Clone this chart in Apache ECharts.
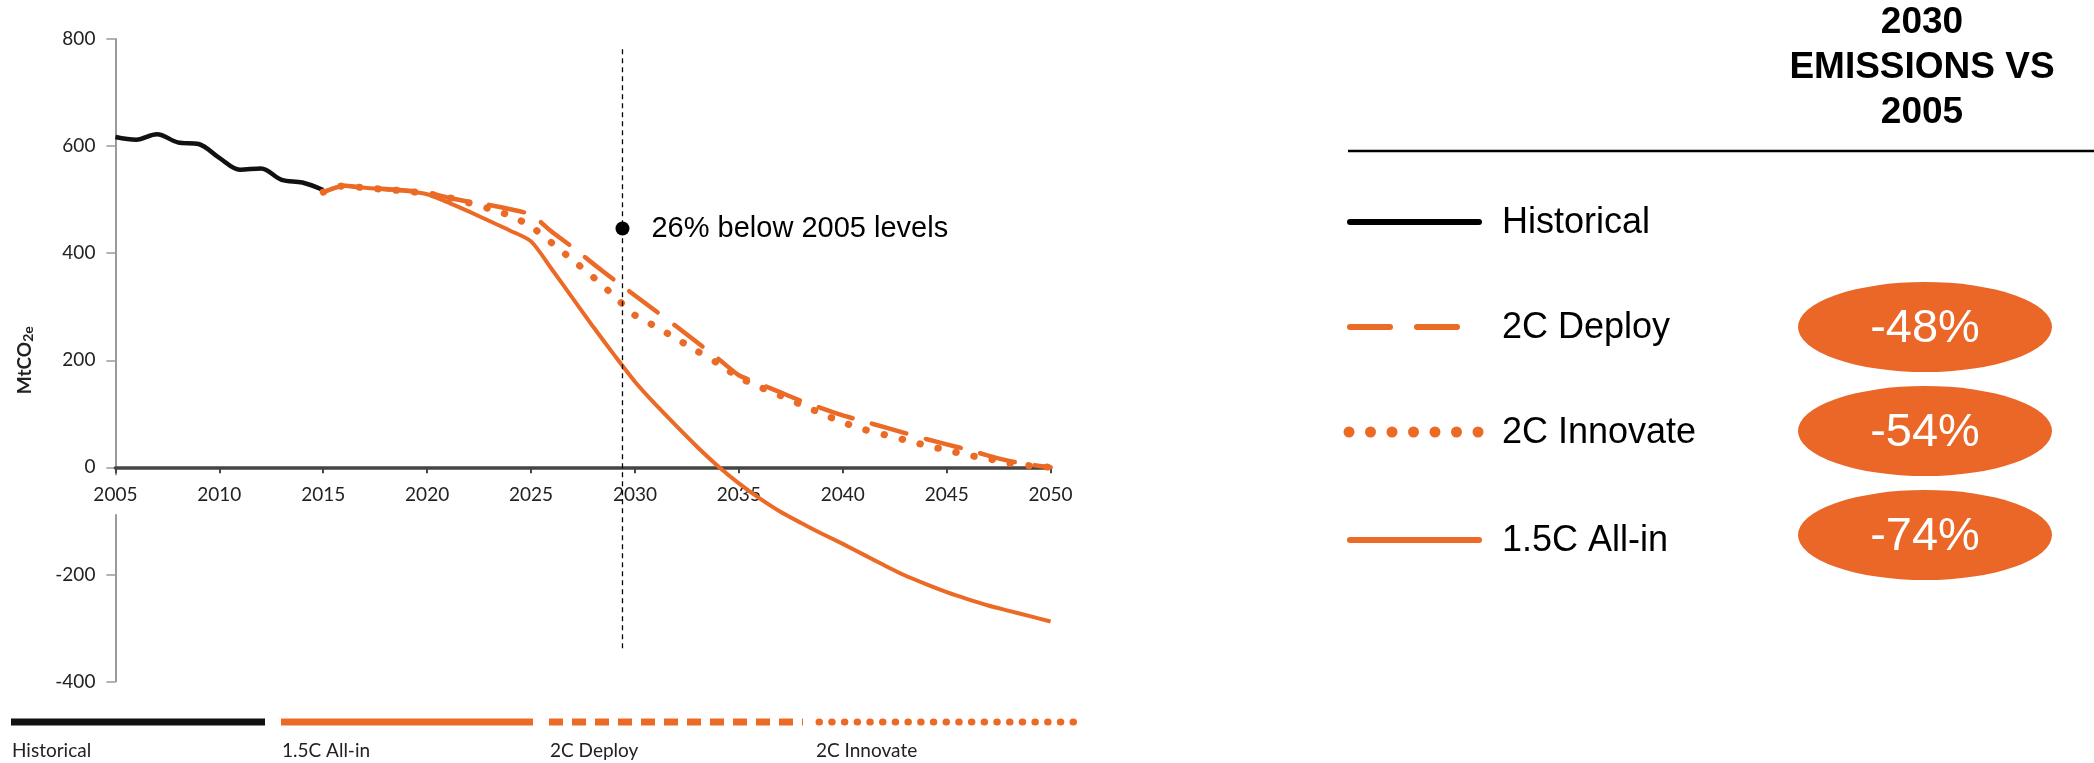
<!DOCTYPE html>
<html>
<head>
<meta charset="utf-8">
<script src="https://cdn.jsdelivr.net/npm/echarts@6/dist/echarts.min.js"></script>
<style>
  html, body { margin: 0; padding: 0; background: #ffffff; }
  #chart { width: 2094px; height: 763px; }
</style>
</head>
<body>
<div id="chart"></div>
<script>
// ---------------- data ----------------
const histYears = [2005, 2006, 2007, 2008, 2009, 2010, 2011, 2012, 2013, 2014, 2015];
const histValues = [617, 612, 622, 607, 604, 578, 556, 558, 537, 532, 518];

const scenarioYears = [2015, 2016, 2017, 2018, 2019, 2020, 2021, 2022, 2023, 2024,
  2025, 2026, 2027, 2028, 2029, 2030, 2031, 2032, 2033, 2034,
  2035, 2036, 2037, 2038, 2039, 2040, 2041, 2042, 2043, 2044,
  2045, 2046, 2047, 2048, 2049, 2050];
const allInValues = [514, 526, 522, 519, 516, 510, 495, 478, 460, 442,
  422, 370, 316, 262, 210, 160, 117, 77, 38, 2,
  -30, -58, -83, -104, -124, -143, -163, -183, -202, -218,
  -233, -246, -258, -268, -278, -288];
const deployValues = [514, 526, 522, 520, 517, 513, 504, 496, 490, 482,
  472, 440, 411, 380, 350, 321, 292, 263, 233, 203,
  172, 156, 140, 124, 110, 97, 86, 75, 64, 53,
  43, 33, 22, 12, 5, 0];
const innovateValues = [514, 526, 522, 519, 516, 511, 504, 494, 483, 470,
  450, 419, 387, 355, 320, 284, 263, 240, 217, 194,
  168, 150, 134, 117, 100, 84, 71, 61, 51, 41,
  32, 23, 16, 8, 3, 0];

const markerYear = 2029.4;
const markerValue = 446;
const markerText = '26% below 2005 levels';
const guideRange = [781, -342];

const xTicks = { min: 2005, max: 2050, interval: 5 };
const yTicks = { min: -400, max: 800, interval: 200 };

const bottomLegendNames = ['Historical', '1.5C All-in', '2C Deploy', '2C Innovate'];
const panelTitle = '2030\nEMISSIONS VS\n2005';
const panelNames = ['Historical', '2C Deploy', '2C Innovate', '1.5C All-in'];
const panelReductions = ['-48%', '-54%', '-74%'];

// ---------------- styles ----------------
const ORANGE = '#EB6A26';
const BLACK = '#111111';
const pairs = (xs, ys) => xs.map((x, i) => [x, ys[i]]);

const GRID_TOP = 39, GRID_BOTTOM_Y = 681.5;
// pixel position of value 0 on the y axis, used to put the x axis on the zero line
const zeroY = GRID_TOP + (GRID_BOTTOM_Y - GRID_TOP) * (yTicks.max - 0) / (yTicks.max - yTicks.min);

const chart = echarts.init(document.getElementById('chart'), null, { renderer: 'canvas' });

const graphics = [];

// bottom legend
const bl = [
  { x1: 11, x2: 265, color: BLACK, dash: null, cap: 'butt', w: 7 },
  { x1: 281, x2: 533, color: ORANGE, dash: null, cap: 'butt', w: 7 },
  { x1: 549, x2: 803, color: ORANGE, dash: [14, 9], cap: 'butt', w: 7 },
  { x1: 819, x2: 1074, color: ORANGE, dash: [0.5, 12.2], cap: 'round', w: 7 }
];
bl.forEach((b, i) => {
  graphics.push({
    type: 'line', shape: { x1: b.x1, y1: 722, x2: b.x2, y2: 722 },
    style: { stroke: b.color, lineWidth: b.w, lineDash: b.dash, lineCap: b.cap }
  });
  graphics.push({
    type: 'text', x: i === 3 ? 816 : b.x1 + 1, y: 751,
    style: { text: bottomLegendNames[i], fill: '#222', font: '19px Lato', textVerticalAlign: 'middle' }
  });
});

// side panel title + rule
graphics.push({
  type: 'text', x: 1922, y: 68,
  style: { text: panelTitle, fill: '#000', font: 'bold 37px "Liberation Sans", Arial',
    textAlign: 'center', textVerticalAlign: 'middle', lineHeight: 45 }
});
graphics.push({
  type: 'line', shape: { x1: 1348, y1: 151, x2: 2094, y2: 151 },
  style: { stroke: '#000', lineWidth: 2.5 }
});

// side panel legend
const rowY = [222, 327, 432, 540];
graphics.push({ type: 'line', shape: { x1: 1350, y1: rowY[0], x2: 1479, y2: rowY[0] },
  style: { stroke: '#000', lineWidth: 6, lineCap: 'round' } });
graphics.push({ type: 'line', shape: { x1: 1350, y1: rowY[1], x2: 1457, y2: rowY[1] },
  style: { stroke: ORANGE, lineWidth: 6, lineCap: 'round', lineDash: [40, 27] } });
for (let k = 0; k < 7; k++) {
  graphics.push({ type: 'circle', shape: { cx: 1349 + k * 21.5, cy: rowY[2], r: 5.5 },
    style: { fill: ORANGE } });
}
graphics.push({ type: 'line', shape: { x1: 1350, y1: rowY[3], x2: 1479, y2: rowY[3] },
  style: { stroke: ORANGE, lineWidth: 6, lineCap: 'round' } });
panelNames.forEach((n, i) => {
  graphics.push({
    type: 'text', x: 1502, y: rowY[i] + 1,
    style: { text: n, fill: '#000', font: '36px "Liberation Sans", Arial', textVerticalAlign: 'middle' }
  });
});

// ellipses with 2030 reductions
const ellY = [327, 431, 535];
panelReductions.forEach((t, i) => {
  graphics.push({
    type: 'circle', x: 1925, y: ellY[i], scaleY: 45 / 127,
    shape: { cx: 0, cy: 0, r: 127 }, style: { fill: '#EA6727' }
  });
  graphics.push({
    type: 'text', x: 1925, y: ellY[i] + 2,
    style: { text: t, fill: '#fff', font: '47px "Liberation Sans", Arial',
      textAlign: 'center', textVerticalAlign: 'middle' }
  });
});

const option = {
  animation: false,
  backgroundColor: '#ffffff',
  grid: { left: 115.4, right: 1043.4, top: GRID_TOP, bottom: 763 - GRID_BOTTOM_Y, containLabel: false },
  xAxis: {
    type: 'value', min: xTicks.min, max: xTicks.max, interval: xTicks.interval, z: 1,
    position: 'bottom', offset: -(GRID_BOTTOM_Y - zeroY),
    axisLine: { show: true, onZero: false, lineStyle: { color: '#454545', width: 3.5 } },
    axisTick: { show: true, length: 6, lineStyle: { color: '#454545', width: 2 } },
    splitLine: { show: false },
    axisLabel: { fontFamily: 'Lato', fontSize: 19, color: '#222', margin: 8,
      backgroundColor: '#ffffff', padding: [10, 3, 10, 3], formatter: v => String(v) }
  },
  yAxis: {
    type: 'value', min: yTicks.min, max: yTicks.max, interval: yTicks.interval, z: 0,
    name: '{a|MtCO}{b|2e}', nameLocation: 'middle', nameGap: 80, nameRotate: 90,
    nameTextStyle: {
      rich: {
        a: { fontFamily: 'Lato', fontWeight: 'bold', fontSize: 19, color: '#222' },
        b: { fontFamily: 'Lato', fontWeight: 'bold', fontSize: 14, color: '#222', padding: [8, 0, 0, 0] }
      }
    },
    axisLine: { show: true, onZero: false, lineStyle: { color: '#9a9a9a', width: 2 } },
    axisTick: { show: true, length: 9, lineStyle: { color: '#9a9a9a', width: 1.5 } },
    splitLine: { show: false },
    axisLabel: { fontFamily: 'Lato', fontSize: 19, color: '#222', margin: 20 }
  },
  graphic: graphics,
  series: [
    {
      name: 'Historical', type: 'line', data: pairs(histYears, histValues),
      showSymbol: false, smooth: 0.35, z: 3,
      lineStyle: { color: BLACK, width: 4.5 }
    },
    {
      name: '1.5C All-in', type: 'line', data: pairs(scenarioYears, allInValues),
      showSymbol: false, smooth: 0.25, z: 3,
      lineStyle: { color: ORANGE, width: 4 }
    },
    {
      name: '2C Deploy', type: 'line', data: pairs(scenarioYears, deployValues),
      showSymbol: false, smooth: 0.2, z: 3,
      lineStyle: { color: ORANGE, width: 4.5, type: [36, 20], cap: 'round' }
    },
    {
      name: '2C Innovate', type: 'line', data: pairs(scenarioYears, innovateValues),
      showSymbol: false, smooth: 0.2, z: 3,
      lineStyle: { color: ORANGE, width: 7, type: [0.5, 18], cap: 'round' }
    },
    {
      name: 'guide', type: 'line',
      data: [[markerYear, guideRange[0]], [markerYear, guideRange[1]]],
      showSymbol: false, z: 4, silent: true,
      lineStyle: { color: '#000', width: 1.3, type: [5, 4] }
    },
    {
      name: 'marker', type: 'scatter', data: [[markerYear, markerValue]],
      symbol: 'circle', symbolSize: 14, z: 5,
      itemStyle: { color: '#000', opacity: 1 },
      label: { show: true, position: 'right', distance: 22, formatter: markerText,
        fontFamily: '"Liberation Sans", Arial', fontSize: 29, color: '#000' }
    }
  ]
};
chart.setOption(option);
</script>
</body>
</html>
